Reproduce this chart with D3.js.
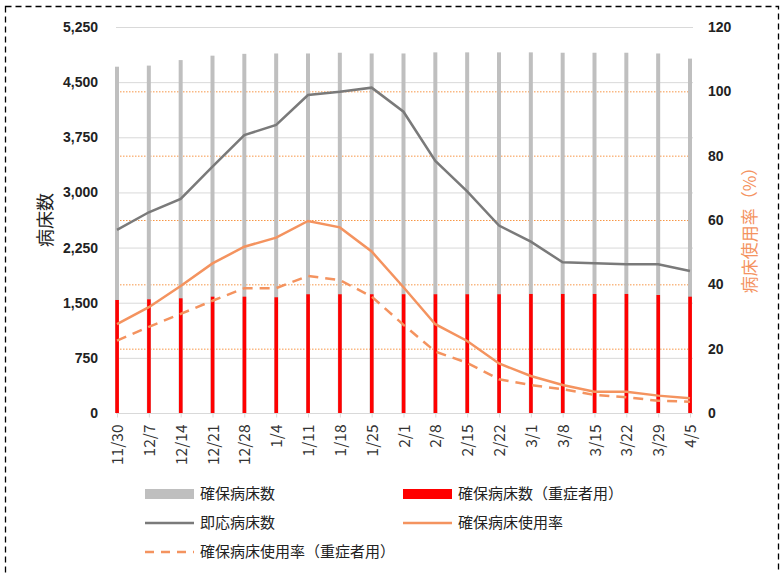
<!DOCTYPE html>
<html><head><meta charset="utf-8">
<script src="https://cdn.jsdelivr.net/npm/d3@7"></script>
<style>
html,body{margin:0;padding:0;background:#fff;}
svg{display:block;font-family:"Noto Sans CJK JP","Noto Sans",sans-serif;}
</style></head>
<body>
<svg id="c" width="783" height="573"></svg>
<script>
const categories = ["11/30","12/7","12/14","12/21","12/28","1/4","1/11","1/18","1/25","2/1","2/8","2/15","2/22","3/1","3/8","3/15","3/22","3/29","4/5"];
const securedBeds = [4710,4725,4800,4860,4885,4890,4890,4900,4890,4890,4905,4905,4905,4905,4900,4900,4900,4890,4820];
const securedBedsSevere = [1537,1546,1560,1582,1582,1574,1615,1615,1615,1615,1615,1615,1615,1619,1619,1619,1619,1605,1582];
const immediateBeds = [2490,2730,2911,3350,3781,3917,4325,4370,4425,4098,3428,3015,2550,2330,2050,2036,2023,2023,1931];
const usageRate = [27.6,32.9,39.5,46.5,51.7,54.5,59.7,57.7,50.2,39.1,27.6,22.4,15.4,11.5,8.7,6.6,6.6,5.4,4.6];
const usageRateSevere = [22.5,26.8,30.8,34.9,38.8,38.8,42.6,41.3,36.2,27.4,19.1,15.6,10.5,8.7,7.4,5.6,4.9,3.8,3.5];
const leftTicks = [0,750,1500,2250,3000,3750,4500,5250];
const rightTicks = [0,20,40,60,80,100,120];
const legendItems = [
  {label:"確保病床数", type:"bar", color:"#BFBFBF"},
  {label:"確保病床数（重症者用）", type:"bar", color:"#FF0000"},
  {label:"即応病床数", type:"line", color:"#7A7A7A"},
  {label:"確保病床使用率", type:"line", color:"#F4935F"},
  {label:"確保病床使用率（重症者用）", type:"dash", color:"#F4935F"}
];

const svg = d3.select("#c");
const pTop = 27, pBottom = 413, pLeft = 117, pRight = 690;
const x = d3.scalePoint().domain(categories).range([pLeft, pRight]);
const yL = d3.scaleLinear().domain([0,5250]).range([pBottom, pTop]);
const yR = d3.scaleLinear().domain([0,120]).range([pBottom, pTop]);

// border
svg.append("rect").attr("x",5.5).attr("y",6.5).attr("width",773).attr("height",570)
  .attr("fill","none").attr("stroke","#000").attr("stroke-width",1.3).attr("stroke-dasharray","6,4");

// grey gridlines (left axis)
svg.append("g").selectAll("line").data(leftTicks.filter(d=>d>0)).join("line")
  .attr("x1",pLeft-1).attr("x2",pRight+3).attr("y1",d=>yL(d)+0.5).attr("y2",d=>yL(d)+0.5)
  .attr("stroke","#D9D9D9").attr("stroke-width",1);

// orange dotted gridlines (right axis)
svg.append("g").selectAll("line").data(rightTicks.filter(d=>d>0 && d<120)).join("line")
  .attr("x1",pLeft).attr("x2",pRight).attr("y1",d=>yR(d)+0.5).attr("y2",d=>yR(d)+0.5)
  .attr("stroke","#F79646").attr("stroke-width",1).attr("stroke-dasharray","1.5,1.5");

// bars
svg.append("g").selectAll("rect").data(securedBeds).join("rect")
  .attr("x",(d,i)=>x(categories[i])-2).attr("width",4)
  .attr("y",d=>yL(d)).attr("height",d=>pBottom-yL(d)).attr("fill","#BFBFBF");
svg.append("g").selectAll("rect").data(securedBedsSevere).join("rect")
  .attr("x",(d,i)=>x(categories[i])-1.7).attr("width",3.6)
  .attr("y",d=>yL(d)).attr("height",d=>pBottom-yL(d)).attr("fill","#FF0000");

// x axis
const xAxis = d3.axisBottom(x).tickSize(4).tickSizeOuter(0);
const gx = svg.append("g").attr("transform",`translate(0,${pBottom+0.5})`).call(xAxis);
gx.select(".domain").attr("stroke","#D9D9D9").attr("d",`M${pLeft-1},0H${pRight+3}`);
gx.selectAll(".tick line").attr("stroke","#D9D9D9");
gx.selectAll(".tick text").attr("transform","rotate(-90)").attr("text-anchor","end")
  .attr("x",-11).attr("y",0).attr("dy","0.36em")
  .attr("font-size",15.5).attr("fill","#333").attr("font-family","'Noto Sans CJK JP',sans-serif");

// left axis
const gl = svg.append("g").attr("transform",`translate(${pLeft-1},0)`)
  .call(d3.axisLeft(yL).tickValues(leftTicks).tickSize(0).tickFormat(d3.format(",")));
gl.select(".domain").remove();
gl.selectAll("text").attr("x",-18).attr("font-size",14).attr("font-weight","bold").attr("fill","#222")
  .attr("font-family","'Liberation Sans',sans-serif");

// right axis
const gr = svg.append("g").attr("transform",`translate(${pRight},0)`)
  .call(d3.axisRight(yR).tickValues(rightTicks).tickSize(0));
gr.select(".domain").remove();
gr.selectAll("text").attr("x",18).attr("font-size",14).attr("font-weight","bold").attr("fill","#222")
  .attr("font-family","'Liberation Sans',sans-serif");

// axis titles
svg.append("text").attr("transform","translate(46,220) rotate(-90)").attr("text-anchor","middle")
  .attr("dy","0.36em").attr("font-size",18).attr("fill","#222").text("病床数");
svg.append("text").attr("transform","translate(750,226) rotate(-90)").attr("text-anchor","middle")
  .attr("dy","0.36em").attr("font-size",17).attr("fill","#F4935F").text("病床使用率（%）");

// lines
const lineL = d3.line().x((d,i)=>x(categories[i])).y(d=>yL(d));
const lineR = d3.line().x((d,i)=>x(categories[i])).y(d=>yR(d));
svg.append("path").datum(immediateBeds).attr("d",lineL).attr("fill","none")
  .attr("stroke","#7A7A7A").attr("stroke-width",2.5);
svg.append("path").datum(usageRate).attr("d",lineR).attr("fill","none")
  .attr("stroke","#F4935F").attr("stroke-width",2.5);
svg.append("path").datum(usageRateSevere).attr("d",lineR).attr("fill","none")
  .attr("stroke","#F4935F").attr("stroke-width",2.5).attr("stroke-dasharray","10,7");

// legend
const lg = svg.append("g");
const pos = [[145,494],[403,494],[145,523],[403,523],[145,552]];
legendItems.forEach((it,i)=>{
  const [lx,ly] = pos[i];
  const g = lg.append("g").attr("transform",`translate(${lx},${ly})`);
  if (it.type==="bar") {
    g.append("rect").attr("x",0).attr("y",-5).attr("width",49).attr("height",10).attr("fill",it.color);
  } else {
    const l = g.append("line").attr("x1",0).attr("x2",49).attr("y1",0).attr("y2",0)
      .attr("stroke",it.color).attr("stroke-width",2.5);
    if (it.type==="dash") l.attr("stroke-dasharray","9,7");
  }
  g.append("text").attr("x",55).attr("y",0).attr("dy","0.36em").attr("font-size",15)
    .attr("fill","#222").text(it.label);
});
</script>
</body></html>
